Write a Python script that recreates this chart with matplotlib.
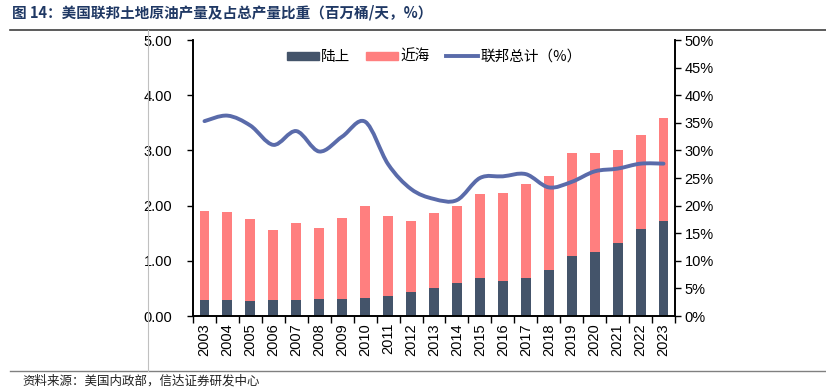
import matplotlib
matplotlib.use("Agg")
import matplotlib.pyplot as plt
from matplotlib.path import Path
from matplotlib.patches import PathPatch
from matplotlib.lines import Line2D
from matplotlib.patches import Patch
import numpy as np

years = [str(y) for y in range(2003, 2024)]
onshore = [0.29, 0.29, 0.28, 0.29, 0.29, 0.30, 0.30, 0.33, 0.37, 0.43, 0.51,
           0.59, 0.68, 0.64, 0.68, 0.84, 1.08, 1.16, 1.33, 1.57, 1.72]
offshore = [1.62, 1.59, 1.48, 1.27, 1.39, 1.29, 1.48, 1.66, 1.44, 1.30, 1.35,
            1.41, 1.53, 1.59, 1.71, 1.70, 1.88, 1.79, 1.67, 1.71, 1.86]
federal_share = [35.3, 36.3, 34.5, 31.0, 33.5, 29.8, 32.5, 35.2, 27.5, 23.0, 21.2,
                 21.0, 25.0, 25.3, 25.7, 23.3, 24.3, 26.2, 26.7, 27.6, 27.6]
left_ticks = [0, 1, 2, 3, 4, 5]
right_ticks = [0, 5, 10, 15, 20, 25, 30, 35, 40, 45, 50]

title = "图 14：美国联邦土地原油产量及占总产量比重（百万桶/天，%）"
source = "资料来源：美国内政部，信达证券研发中心"
labels = ["陆上", "近海", "联邦总计（%）"]

C_ON = "#44546A"
C_OFF = "#FF7F7F"
C_LINE = "#5A6BAA"

plt.rcParams['font.family'] = ['Liberation Sans', 'Noto Sans CJK SC', 'DejaVu Sans']

fig = plt.figure(figsize=(8.26, 3.91), dpi=100)
W, H = 826, 391
ax = fig.add_axes([193 / W, 1 - 316 / H, (675 - 193) / W, (316 - 40) / H])
ax2 = ax.twinx()

x = np.arange(len(years))
bw = 0.43
ax.bar(x, onshore, bw, color=C_ON, zorder=2)
ax.bar(x, offshore, bw, bottom=onshore, color=C_OFF, zorder=2)

ax.set_xlim(-0.5, len(years) - 0.5)
ax.set_ylim(0, 5)
ax.set_yticks(left_ticks)
ax.set_yticklabels([f"{v:.2f}" for v in left_ticks])
ax.set_xticks(x)
ax.set_xticklabels(years, rotation=90)
ax.set_xticks(np.arange(-0.5, len(years), 1), minor=True)
ax.tick_params(axis='x', which='major', length=0, pad=5, labelsize=10.5)
ax.tick_params(axis='x', which='minor', length=5, width=1, direction='out')
ax.tick_params(axis='y', length=4, width=1, direction='out', labelsize=10.5, pad=11)

ax2.set_ylim(0, 50)
ax2.set_yticks(right_ticks)
ax2.set_yticklabels([f"{v}%" for v in right_ticks])
ax2.tick_params(axis='y', length=4, width=1, direction='out', labelsize=10.5, pad=3)

for a in (ax, ax2):
    a.spines['top'].set_visible(False)
for s in ['left', 'right', 'bottom']:
    ax.spines[s].set_linewidth(1.2)
    ax2.spines[s].set_linewidth(1.2)

# smooth line (Excel-style cubic Bezier through the data points)
pts = np.column_stack([x, federal_share]).astype(float)
verts = [pts[0]]
codes = [Path.MOVETO]
n = len(pts)
for i in range(n - 1):
    p0 = pts[i - 1] if i > 0 else pts[i]
    p1 = pts[i]
    p2 = pts[i + 1]
    p3 = pts[i + 2] if i + 2 < n else pts[i + 1]
    c1 = p1 + (p2 - p0) / 6.0
    c2 = p2 - (p3 - p1) / 6.0
    verts += [c1, c2, p2]
    codes += [Path.CURVE4] * 3
path = Path(verts, codes)
ax2.add_patch(PathPatch(path, facecolor='none', edgecolor=C_LINE, lw=2.8,
                        capstyle='round', joinstyle='round', zorder=3))

handles = [Patch(color=C_ON), Patch(color=C_OFF), Line2D([], [], color=C_LINE, lw=2.8)]
leg = ax2.legend(handles, labels, loc='upper center', bbox_to_anchor=(0.5, 1.012),
                 ncol=3, frameon=False, handlelength=2.2,
                 handleheight=0.45, columnspacing=1.1, handletextpad=0.15,
                 prop={'family': ['Noto Sans CJK SC', 'DejaVu Sans'], 'size': 10.5})

fig.text(12 / W, 1 - 13 / H, title, fontsize=10.5, fontweight='bold', color='#1F3864',
         va='center', ha='left', family=['Noto Sans CJK SC', 'DejaVu Sans'])
fig.text(22 / W, 1 - 381 / H, source, fontsize=9, color='#222222', style='italic',
         va='center', ha='left', family=['Noto Sans CJK SC', 'DejaVu Sans'])

fig.add_artist(Line2D([10 / W, 1], [1 - 30 / H, 1 - 30 / H], color='#404040', lw=1.2,
                      transform=fig.transFigure))
fig.add_artist(Line2D([10 / W, 1], [1 - 371 / H, 1 - 371 / H], color='#808080', lw=1.0,
                      transform=fig.transFigure))
fig.add_artist(Line2D([148 / W, 148 / W], [1 - 30 / H, 1 - 371 / H], color='#C0C0C0', lw=0.8,
                      transform=fig.transFigure))

fig.savefig("out.png", dpi=100)
